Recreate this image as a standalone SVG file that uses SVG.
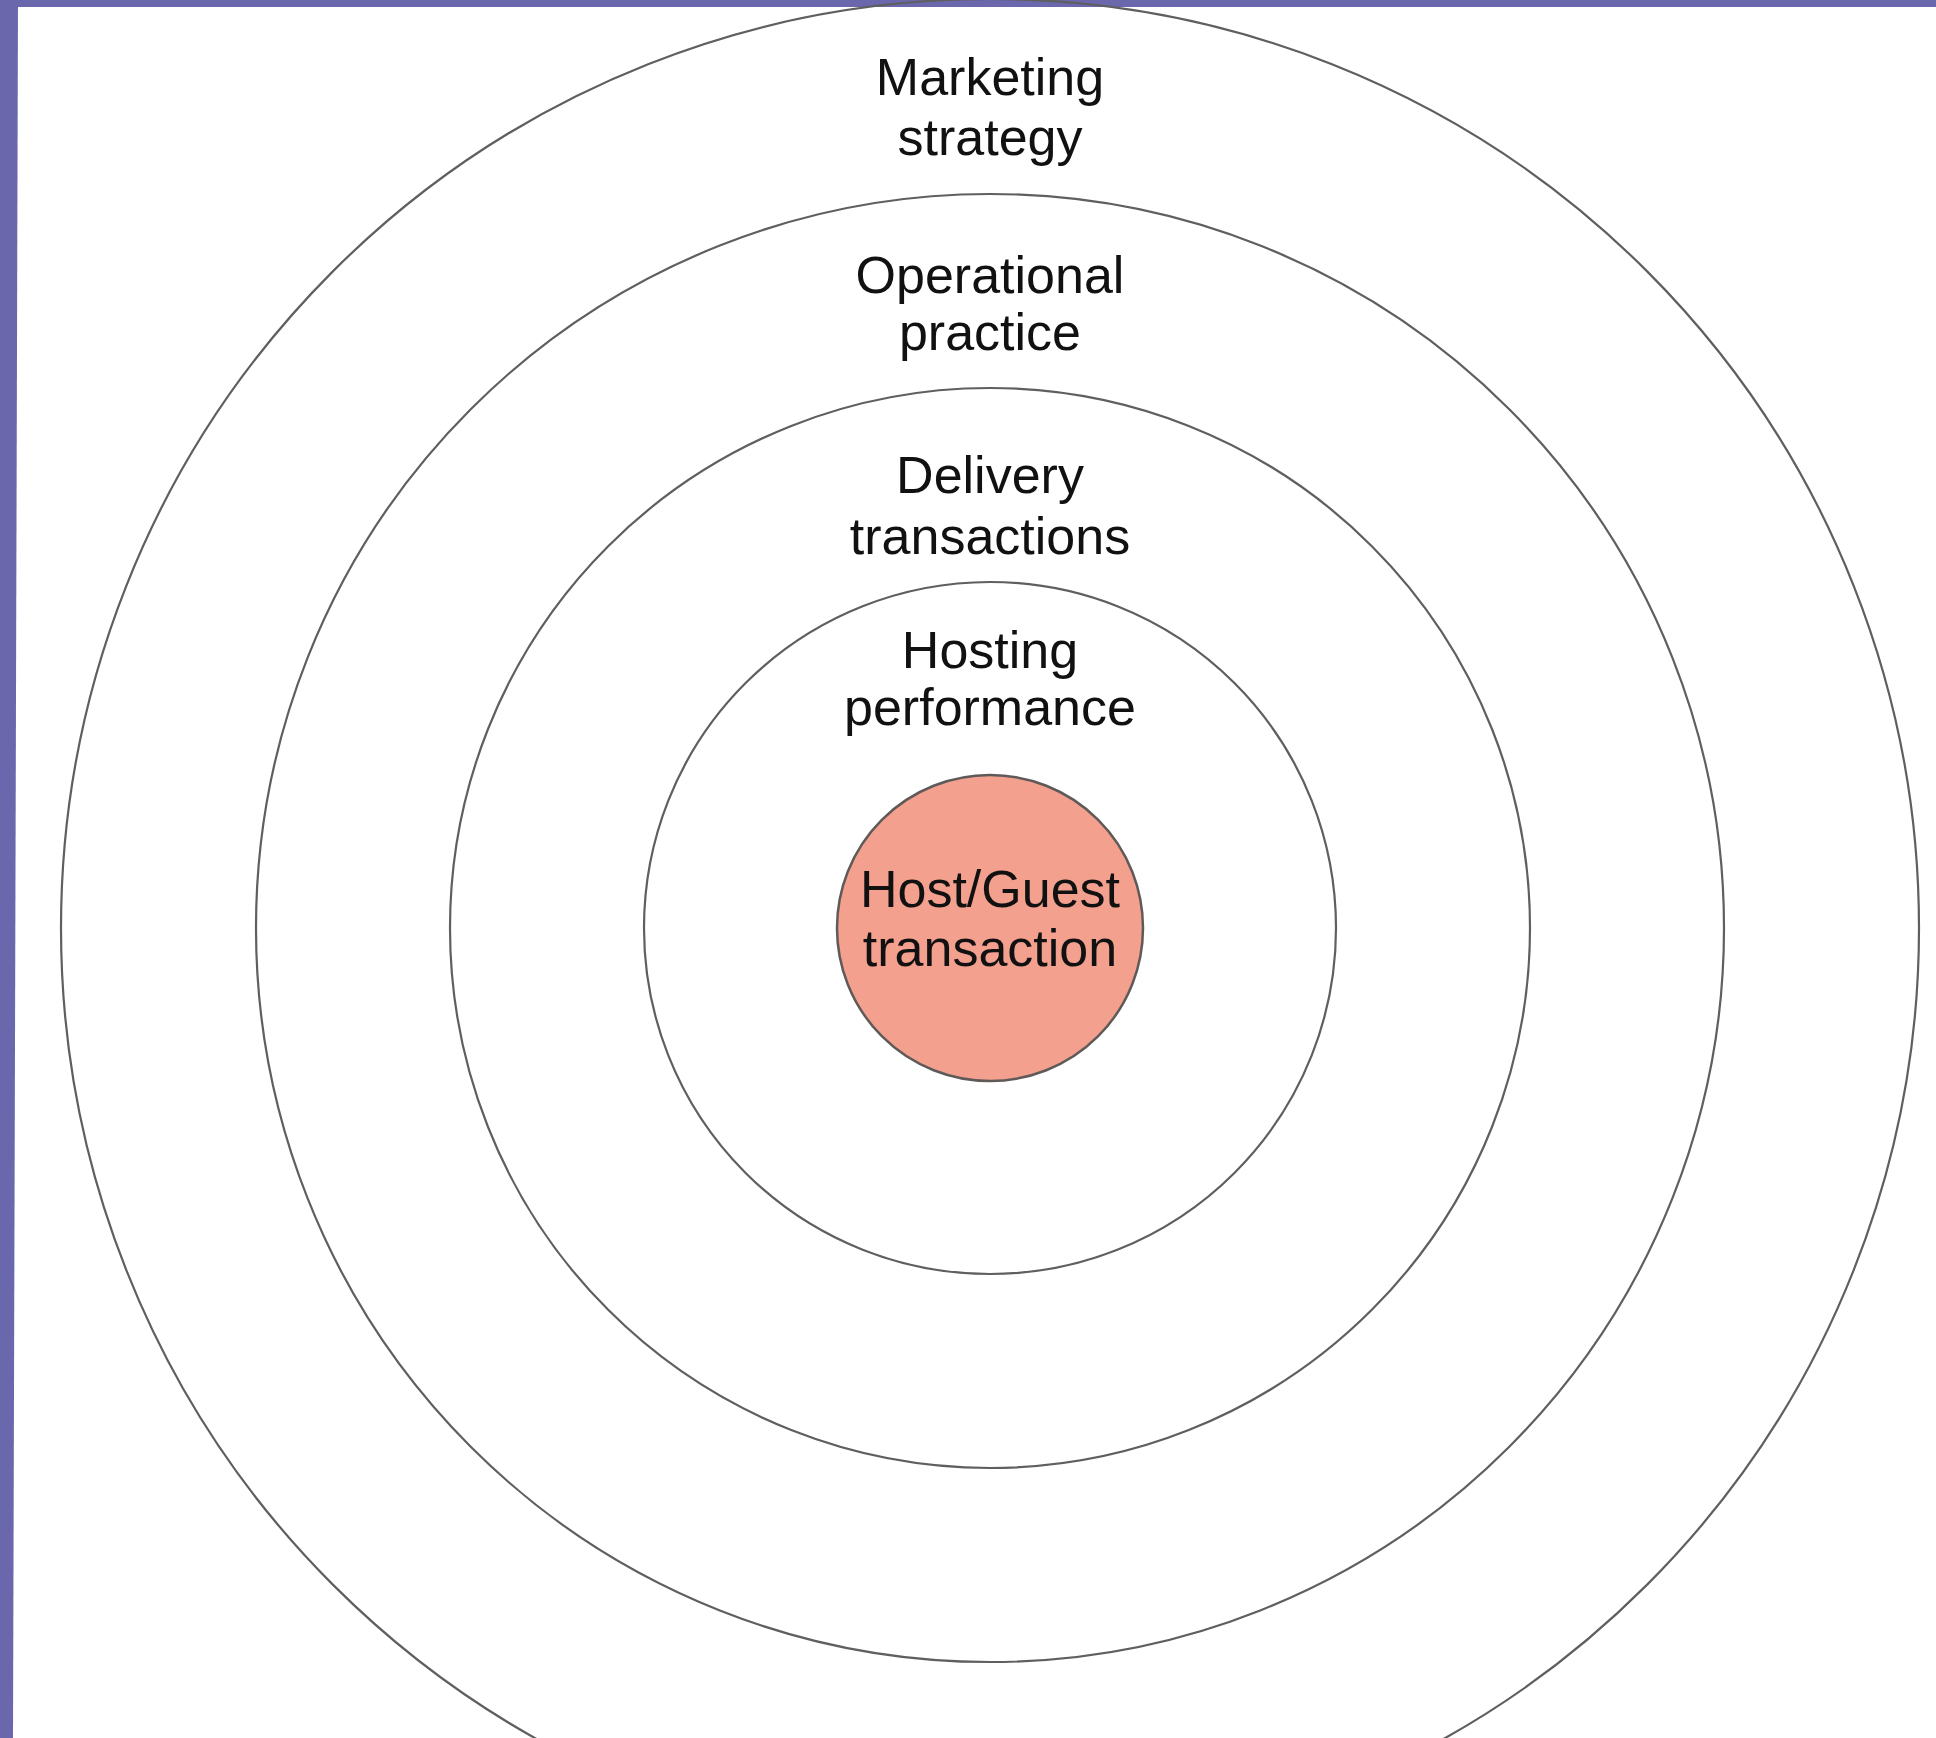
<svg xmlns="http://www.w3.org/2000/svg" width="1936" height="1738" viewBox="0 0 1936 1738">
<style>
.ring{fill:none;stroke:#5f5f5f;stroke-width:2.2}
.core{fill:#f4a08f;stroke:#5f5a58;stroke-width:2.5}
.lbl{font-family:"Liberation Sans",Arial,sans-serif;font-size:52px;fill:#111;text-anchor:middle}
</style>
<rect x="0" y="0" width="1936" height="1738" fill="#ffffff"/>
<g id="border">
<rect x="0" y="0" width="1936" height="7" fill="#6a67ad"/>
<polygon points="0,0 18,0 13,1738 0,1738" fill="#6a67ad"/>
</g>
<g id="marketing-strategy">
<circle class="ring" cx="990" cy="928" r="929"/>
<text class="lbl" x="990" y="95">Marketing</text>
<text class="lbl" x="990" y="155">strategy</text>
</g>
<g id="operational-practice">
<circle class="ring" cx="990" cy="928" r="734"/>
<text class="lbl" x="990" y="293">Operational</text>
<text class="lbl" x="990" y="350">practice</text>
</g>
<g id="delivery-transactions">
<circle class="ring" cx="990" cy="928" r="540"/>
<text class="lbl" x="990" y="493">Delivery</text>
<text class="lbl" x="990" y="554">transactions</text>
</g>
<g id="hosting-performance">
<circle class="ring" cx="990" cy="928" r="346"/>
<text class="lbl" x="990" y="668">Hosting</text>
<text class="lbl" x="990" y="725">performance</text>
</g>
<g id="host-guest-transaction">
<circle class="core" cx="990" cy="928" r="153"/>
<text class="lbl" x="990" y="907">Host/Guest</text>
<text class="lbl" x="990" y="966">transaction</text>
</g>
<g id="connectors"></g>
</svg>
